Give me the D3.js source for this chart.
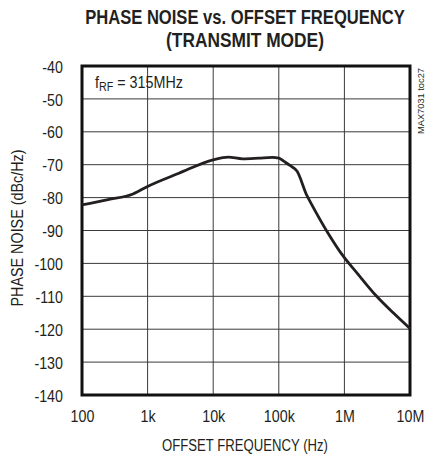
<!DOCTYPE html>
<html><head><meta charset="utf-8">
<script src="https://cdn.jsdelivr.net/npm/d3@7"></script>
<style>
body{margin:0;background:#fff;}
svg{display:block;}
text{font-family:"Liberation Sans",Arial,sans-serif;fill:#231f20;}
</style></head><body>
<script>
const freqs = [100, 250, 600, 1000, 3000, 10000, 17000, 28000, 50000, 80000, 100000, 120000, 150000, 190000, 270000, 300000, 540000, 960000, 1540000, 3100000, 5600000, 10000000];
const noise = [-82.2, -80.6, -78.9, -76.6, -72.6, -68.5, -67.7, -68.2, -68.0, -67.8, -68.0, -69.0, -70.3, -72.0, -79.5, -81.2, -90.2, -97.8, -102.8, -110, -115.1, -119.8];
const xTicks = [100, 1000, 10000, 100000, 1000000, 10000000];
const xTickLabels = ["100", "1k", "10k", "100k", "1M", "10M"];
const yTicks = [-40, -50, -60, -70, -80, -90, -100, -110, -120, -130, -140];

const W = 426, H = 458;
const L = 82, R = 410, T = 66, B = 395;
const SX = 0.84;
const svg = d3.select("body").append("svg").attr("width", W).attr("height", H);

const x = d3.scaleLog().domain([100, 1e7]).range([L, R]);
const y = d3.scaleLinear().domain([-140, -40]).range([B, T]);

// grid
const grid = svg.append("g");
grid.selectAll("line.v").data(xTicks).join("line")
  .attr("x1", d => x(d)).attr("x2", d => x(d)).attr("y1", T).attr("y2", B)
  .attr("stroke", "#3a3a3a").attr("stroke-width", 1);
grid.selectAll("line.h").data(yTicks).join("line")
  .attr("x1", L).attr("x2", R).attr("y1", d => y(d)).attr("y2", d => y(d))
  .attr("stroke", "#3a3a3a").attr("stroke-width", 1);

// axes (labels)
const yAxis = d3.axisLeft(y).tickValues(yTicks).tickSize(0).tickPadding(0)
  .tickFormat(d => d);
const gy = svg.append("g").attr("transform", `translate(${L - 19},0)`).call(yAxis);
gy.select(".domain").remove();
gy.selectAll("text").attr("font-size", 17).attr("x", 0).attr("dy", "0.36em")
  .attr("transform", `scale(${SX},1)`)
  .style("font-family", '"Liberation Sans",sans-serif').attr("fill", "#231f20");

const xAxis = d3.axisBottom(x).tickValues(xTicks).tickSize(0).tickPadding(0)
  .tickFormat((d, i) => xTickLabels[i]);
const gx = svg.append("g").attr("transform", `translate(0,${B + 15})`).call(xAxis);
gx.select(".domain").remove();
gx.selectAll("text").attr("font-size", 17).attr("dy", "0.71em")
  .attr("transform", `scale(${SX},1)`)
  .style("font-family", '"Liberation Sans",sans-serif').attr("fill", "#231f20");

// frame
svg.append("rect").attr("x", L).attr("y", T).attr("width", R - L).attr("height", B - T)
  .attr("fill", "none").attr("stroke", "#111").attr("stroke-width", 3);

// curve
const data = freqs.map((f, i) => [f, noise[i]]);
const line = d3.line().x(d => x(d[0])).y(d => y(d[1])).curve(d3.curveMonotoneX);
svg.append("path").datum(data).attr("d", line).attr("fill", "none")
  .attr("stroke", "#231f20").attr("stroke-width", 2.8).attr("stroke-linejoin", "round");

// helper: place text at (cx, cy) squeezed to a target width
function fitted(cx, cy, str, size, weight, target, anchor, rot) {
  const g = svg.append("g").attr("transform", `translate(${cx},${cy})` + (rot ? ` rotate(${rot})` : ""));
  const t = g.append("text").attr("text-anchor", anchor || "middle")
    .attr("font-size", size).attr("font-weight", weight || "normal").text(str);
  const w = t.node().getComputedTextLength();
  t.attr("transform", `scale(${target / w},1)`);
  return t;
}

fitted(245, 24, "PHASE NOISE vs. OFFSET FREQUENCY", 20, "bold", 320);
fitted(245, 46.5, "(TRANSMIT MODE)", 20, "bold", 158);
fitted(245, 451, "OFFSET FREQUENCY (Hz)", 17, "normal", 166);
fitted(23, 228, "PHASE NOISE (dBc/Hz)", 17, "normal", 157, "middle", -90);

// annotation
const ag = svg.append("g").attr("transform", "translate(95,88)");
const ann = ag.append("text").attr("font-size", 16);
ann.append("tspan").text("f");
ann.append("tspan").attr("font-size", 12).attr("dy", 3).text("RF");
ann.append("tspan").attr("dy", -3).text(" = 315MHz");
ann.attr("transform", `scale(${88 / ann.node().getComputedTextLength()},1)`);

fitted(424, 101, "MAX7031 toc27", 9, "normal", 66, "middle", -90);
</script>
</body></html>
